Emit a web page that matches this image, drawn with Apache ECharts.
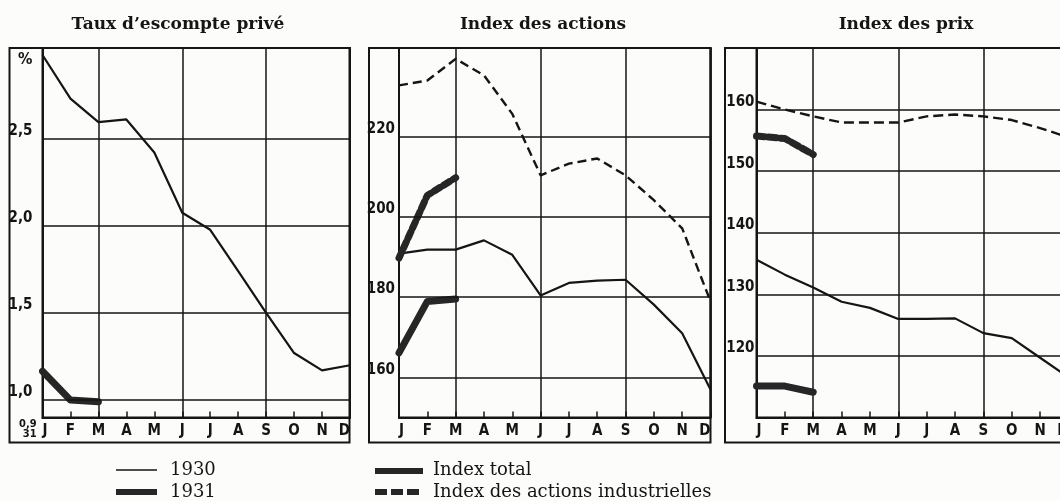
<!DOCTYPE html>
<html>
<head>
<meta charset="utf-8">
<script src="https://cdn.jsdelivr.net/npm/echarts@6/dist/echarts.min.js"></script>
<style>
html,body{margin:0;padding:0;background:#fcfcfa;overflow:hidden;width:1060px;height:501px;}
#chart{width:1090px;height:501px;}
</style>
</head>
<body>
<div id="chart"></div>
<script>
// ---------- data ----------
const months = ['J','F','M','A','M','J','J','A','S','O','N','D'];

const titles = ['Taux d’escompte privé', 'Index des actions', 'Index des prix'];

// Taux d'escompte privé (%)
const taux1930 = [2.98, 2.73, 2.595, 2.61, 2.42, 2.075, 1.977, 1.74, 1.50, 1.27, 1.17, 1.20];
const taux1931 = [1.165, 1.00, 0.99];
const tauxTicks = [1.0, 1.5, 2.0, 2.5];
const tauxTickLabels = ['1,0', '1,5', '2,0', '2,5'];

// Index des actions
const actionsTotal1930 = [190.8, 191.8, 191.8, 194.1, 190.5, 180.4, 183.5, 184.1, 184.3, 178.1, 171.0, 157.0];
const actionsIndus1930 = [232.7, 233.9, 239.3, 235.2, 225.6, 210.3, 213.2, 214.5, 210.3, 204.1, 197.1, 178.9];
const actionsTotal1931 = [166.1, 178.9, 179.5];
const actionsIndus1931 = [189.7, 205.3, 209.7];
const actionsTicks = [160, 180, 200, 220];

// Index des prix
const prixDashed1930 = [161.3, 160.0, 158.9, 157.9, 157.9, 157.9, 158.9, 159.2, 158.9, 158.3, 157.0, 155.5];
const prixSolid1930 = [135.6, 133.2, 131.1, 128.8, 127.8, 126.0, 126.0, 126.1, 123.7, 122.9, 119.7, 116.5];
const prixDashed1931 = [155.7, 155.3, 152.7];
const prixSolid1931 = [115.1, 115.1, 114.1];
const prixTicks = [120, 130, 140, 150, 160];

const legendYears = ['1930', '1931'];
const legendKinds = ['Index total', 'Index des actions industrielles'];

// ---------- styles ----------
const INK = '#151515';
const HEAVY = '#262626';
const numFont = '"Liberation Sans Narrow", "DejaVu Sans Condensed", sans-serif';
const serif = '"DejaVu Serif", serif';

const grids = [
  {left: 42.5, top: 48, width: 307.5, height: 369.5, show: true, borderColor: INK, borderWidth: 2},
  {left: 399, top: 48, width: 311.5, height: 369.5, show: true, borderColor: INK, borderWidth: 2},
  {left: 756.5, top: 48, width: 312, height: 369.5, show: true, borderColor: INK, borderWidth: 2}
];

function xAxisFor(i, extra) {
  return Object.assign({
    type: 'category', gridIndex: i, data: months, boundaryGap: false,
    axisLine: {show: true, lineStyle: {color: INK, width: 2}},
    axisTick: {show: true, inside: true, length: 6, lineStyle: {color: INK, width: 1.5}},
    axisLabel: {show: true, margin: 6, color: INK, fontFamily: numFont, fontWeight: 'bold', fontSize: 15,
      alignMinLabel: 'left', alignMaxLabel: 'right', interval: 0},
    splitLine: {show: true, interval: function (idx) { return idx % 3 === 2; },
      lineStyle: {color: INK, width: 1.5}}
  }, extra || {});
}

function yAxisFor(i, min, max, interval, ticks, labels, margin, extra) {
  return Object.assign({
    type: 'value', gridIndex: i, min: min, max: max, interval: interval,
    axisLine: {show: true, lineStyle: {color: INK, width: 2}},
    axisTick: {show: false},
    splitLine: {show: false},
    axisLabel: {
      show: true, margin: margin, color: INK, fontFamily: numFont, fontWeight: 'bold', fontSize: 15,
      verticalAlign: 'bottom', lineHeight: 15,
      formatter: function (v) {
        for (let k = 0; k < ticks.length; k++) {
          if (Math.abs(v - ticks[k]) < 1e-6) return labels[k];
        }
        return '';
      }
    }
  }, extra || {});
}

function gridLines(i, ticks) {
  return {
    type: 'line', xAxisIndex: i, yAxisIndex: i, data: [], z: 1, silent: true,
    markLine: {
      silent: true, symbol: ['none', 'none'], label: {show: false}, animation: false,
      lineStyle: {color: INK, width: 1.5, type: 'solid'},
      emphasis: {disabled: true},
      data: ticks.map(function (v) { return {yAxis: v}; })
    }
  };
}

function lineSeries(i, data, width, type, z) {
  return {
    type: 'line', xAxisIndex: i, yAxisIndex: i, data: data, symbol: 'none',
    z: z || 3, silent: true,
    lineStyle: {color: width > 4 ? HEAVY : INK, width: width, type: type, cap: width > 4 ? 'round' : 'butt', join: 'round'}
  };
}

const option = {
  backgroundColor: '#fcfcfa',
  animation: false,
  title: [
    {text: titles[0], left: 173, top: 11, textAlign: 'center',
     textStyle: {fontFamily: serif, fontWeight: 'bold', fontSize: 17, color: INK}},
    {text: titles[1], left: 538, top: 11, textAlign: 'center',
     textStyle: {fontFamily: serif, fontWeight: 'bold', fontSize: 17, color: INK}},
    {text: titles[2], left: 901, top: 11, textAlign: 'center',
     textStyle: {fontFamily: serif, fontWeight: 'bold', fontSize: 17, color: INK}}
  ],
  grid: grids,
  xAxis: [
    xAxisFor(0, {name: '0,9\n31', nameLocation: 'start', nameGap: 3,
      nameTextStyle: {align: 'right', verticalAlign: 'top', fontFamily: numFont, fontWeight: 'bold',
        fontSize: 11, lineHeight: 10, color: INK, padding: [2, 0, 0, 0]}}),
    xAxisFor(1),
    xAxisFor(2)
  ],
  yAxis: [
    yAxisFor(0, 0.9, 3.02, 0.1, tauxTicks, tauxTickLabels, 10,
      {name: '%', nameLocation: 'end', nameGap: -4,
       nameTextStyle: {align: 'right', verticalAlign: 'top', fontFamily: numFont, fontWeight: 'bold',
         fontSize: 16, color: INK, padding: [0, 10, 0, 0]}}),
    yAxisFor(1, 150, 242, 10, actionsTicks, actionsTicks.map(String), 4),
    yAxisFor(2, 110, 170, 10, prixTicks, prixTicks.map(String), 2)
  ],
  series: [
    gridLines(0, tauxTicks),
    gridLines(1, actionsTicks),
    gridLines(2, prixTicks),
    lineSeries(0, taux1930, 2.2, 'solid'),
    lineSeries(0, taux1931, 7, 'solid', 4),
    lineSeries(1, actionsTotal1930, 2.2, 'solid'),
    lineSeries(1, actionsIndus1930, 2.4, [9, 5]),
    lineSeries(1, actionsTotal1931, 7, 'solid', 4),
    lineSeries(1, actionsIndus1931, 7, [7, 4], 4),
    lineSeries(2, prixSolid1930, 2.2, 'solid'),
    lineSeries(2, prixDashed1930, 2.4, [10, 5]),
    lineSeries(2, prixSolid1931, 7, 'solid', 4),
    lineSeries(2, prixDashed1931, 7, [8, 4], 4)
  ],
  graphic: [
    // panel outer frames
    {type: 'rect', shape: {x: 9.5, y: 48, width: 340, height: 394.5}, style: {fill: null, stroke: INK, lineWidth: 2}, z: 10, silent: true},
    {type: 'rect', shape: {x: 369, y: 48, width: 341.5, height: 394.5}, style: {fill: null, stroke: INK, lineWidth: 2}, z: 10, silent: true},
    {type: 'rect', shape: {x: 725, y: 48, width: 400, height: 394.5}, style: {fill: null, stroke: INK, lineWidth: 2}, z: 10, silent: true},
    // legend
    {type: 'line', shape: {x1: 116, y1: 470, x2: 157, y2: 470}, style: {stroke: INK, lineWidth: 1.5}, silent: true},
    {type: 'text', x: 170, y: 470, style: {text: legendYears[0], font: '18px "DejaVu Serif", serif', fill: INK, verticalAlign: 'middle'}, silent: true},
    {type: 'line', shape: {x1: 116, y1: 492, x2: 157, y2: 492}, style: {stroke: HEAVY, lineWidth: 6}, silent: true},
    {type: 'text', x: 170, y: 492, style: {text: legendYears[1], font: '18px "DejaVu Serif", serif', fill: INK, verticalAlign: 'middle'}, silent: true},
    {type: 'line', shape: {x1: 375, y1: 471, x2: 423, y2: 471}, style: {stroke: HEAVY, lineWidth: 6}, silent: true},
    {type: 'text', x: 433, y: 470, style: {text: legendKinds[0], font: '18px "DejaVu Serif", serif', fill: INK, verticalAlign: 'middle'}, silent: true},
    {type: 'line', shape: {x1: 375, y1: 492, x2: 423, y2: 492}, style: {stroke: HEAVY, lineWidth: 6, lineDash: [12, 4]}, silent: true},
    {type: 'text', x: 433, y: 492, style: {text: legendKinds[1], font: '18px "DejaVu Serif", serif', fill: INK, verticalAlign: 'middle'}, silent: true}
  ]
};

const chart = echarts.init(document.getElementById('chart'), null, {renderer: 'canvas'});
chart.setOption(option);
</script>
</body>
</html>
